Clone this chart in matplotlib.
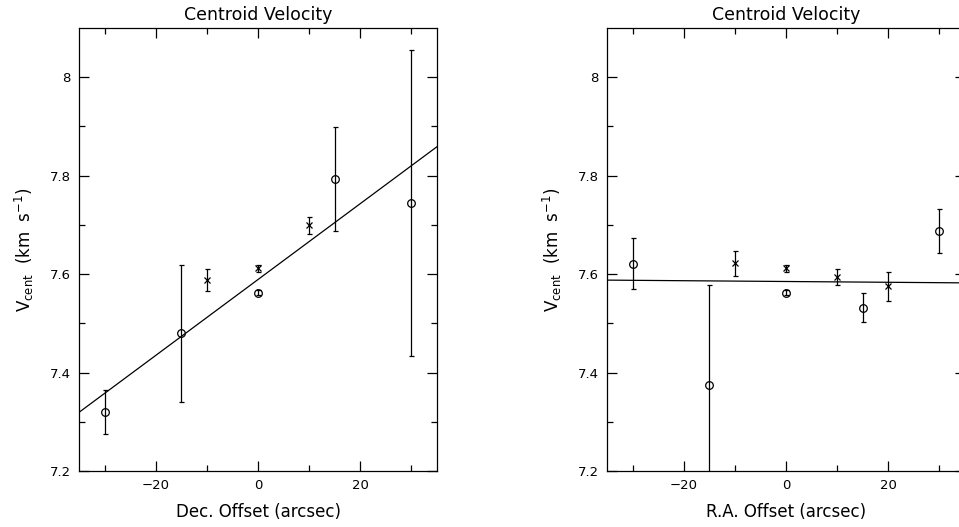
import matplotlib
matplotlib.use("Agg")
import matplotlib.pyplot as plt
import numpy as np

# Dec. offset cut
dec_circ_x = [-30, -15, 0, 15, 30]
dec_circ_y = [7.32, 7.48, 7.562, 7.793, 7.745]
dec_circ_err = [0.044, 0.139, 0.005, 0.105, 0.311]
dec_cross_x = [-10, 0, 10]
dec_cross_y = [7.588, 7.612, 7.699]
dec_cross_err = [0.022, 0.007, 0.018]
dec_fit = [0.00771, 7.589]  # slope, intercept

# R.A. offset cut
ra_circ_x = [-30, -15, 0, 15, 30]
ra_circ_y = [7.621, 7.375, 7.562, 7.532, 7.688]
ra_circ_err = [0.052, 0.203, 0.005, 0.030, 0.045]
ra_cross_x = [-10, 0, 10, 20]
ra_cross_y = [7.622, 7.612, 7.594, 7.575]
ra_cross_err = [0.025, 0.007, 0.017, 0.030]
ra_fit = [-0.00008, 7.585]

plt.rcParams['font.family'] = 'DejaVu Sans'


def draw_panel(ax, cx, cy, ce, xx, xy, xe, fit, xlabel):
    ax.errorbar(cx, cy, yerr=ce, fmt='o', mfc='none', mec='black', ms=5.5,
                mew=0.9, ecolor='black', elinewidth=0.9, capsize=1.8,
                capthick=0.9)
    ax.errorbar(xx, xy, yerr=xe, fmt='x', color='black', ms=4, mew=0.9,
                elinewidth=0.9, capsize=1.8, capthick=0.9)
    xs = np.array([-35, 35])
    ax.plot(xs, fit[0] * xs + fit[1], color='black', lw=0.9)
    ax.set_xlim(-35, 35)
    ax.set_ylim(7.2, 8.1)
    ax.set_xticks([-20, 0, 20])
    ax.set_xticklabels(['\u221220', '0', '20'])
    ax.set_xticks([-30, -10, 10, 30], minor=True)
    ax.set_yticks([7.2, 7.4, 7.6, 7.8, 8.0])
    ax.set_yticklabels(['7.2', '7.4', '7.6', '7.8', '8'])
    ax.set_yticks([7.3, 7.5, 7.7, 7.9], minor=True)
    ax.tick_params(which='both', direction='in', top=True, right=True,
                   labelsize=9.5, width=0.9, pad=6)
    ax.tick_params(which='major', length=7)
    ax.tick_params(which='minor', length=4)
    for s in ax.spines.values():
        s.set_linewidth(0.9)
    ax.set_title('Centroid Velocity', fontsize=12.5, pad=6)
    ax.set_xlabel(xlabel, fontsize=12, labelpad=8)
    ax.set_ylabel(r'$\mathregular{V_{cent}}$  (km  s$\mathregular{^{-1}}$)',
                  fontsize=12, labelpad=10)


fig = plt.figure(figsize=(9.59, 5.27), dpi=100)
ax1 = fig.add_axes([79 / 959, 1 - 471 / 527, 358 / 959, 443 / 527])
ax2 = fig.add_axes([607 / 959, 1 - 471 / 527, 358 / 959, 443 / 527])

draw_panel(ax1, dec_circ_x, dec_circ_y, dec_circ_err, dec_cross_x,
           dec_cross_y, dec_cross_err, dec_fit, 'Dec. Offset (arcsec)')
draw_panel(ax2, ra_circ_x, ra_circ_y, ra_circ_err, ra_cross_x,
           ra_cross_y, ra_cross_err, ra_fit, 'R.A. Offset (arcsec)')

fig.savefig('out.png', dpi=100)
